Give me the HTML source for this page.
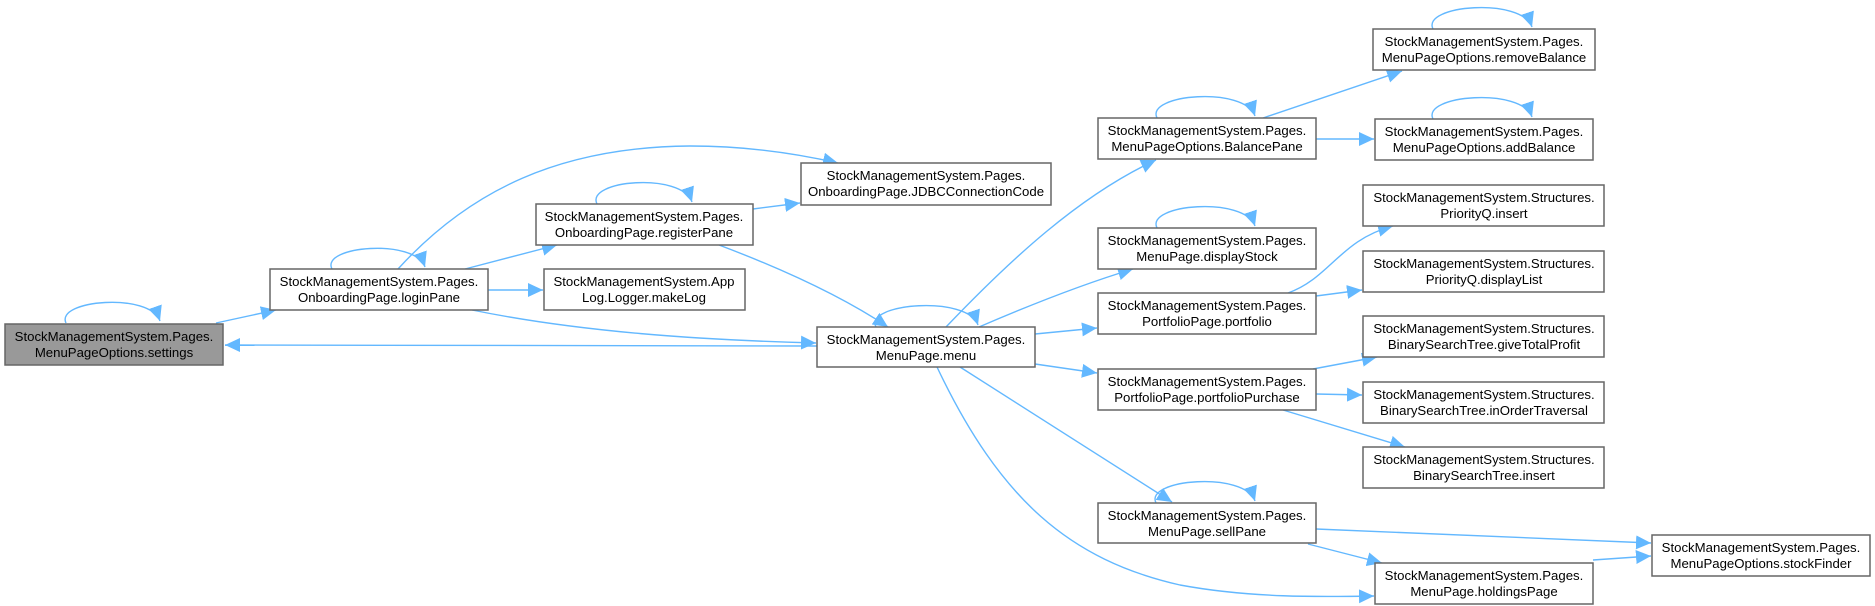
<!DOCTYPE html>
<html><head><meta charset="utf-8"><style>
html,body{margin:0;padding:0;background:#fff;}
svg{display:block;}
text{font-family:"Liberation Sans",Arial,sans-serif;font-size:13.2px;fill:#000;text-anchor:middle;}
.b{fill:#fff;stroke:#666;stroke-width:1.5;}
.e{fill:none;stroke:#63b8ff;stroke-width:1.4;}
</style></head><body>
<svg width="1875" height="606" viewBox="0 0 1875 606" xmlns="http://www.w3.org/2000/svg">
<defs>
<marker id="a" markerUnits="userSpaceOnUse" markerWidth="16" markerHeight="14" refX="15" refY="7" orient="auto">
<path d="M0,0 L15,7 L0,14 Z" fill="#63b8ff"/>
</marker>
</defs>

<g class="e" marker-end="url(#a)">
<path d="M66,323 C55,300 150,292 160,321"/>
<path d="M332,269 C320,246 415,238 425,267"/>
<path d="M597,204 C585,180 682,172 692,202"/>
<path d="M876,327 C864,303 968,295 978,325"/>
<path d="M1157,118 C1145,94 1245,86 1255,116"/>
<path d="M1157,228 C1145,204 1245,196 1255,226"/>
<path d="M1156,503 C1144,479 1245,471 1255,501"/>
<path d="M1433,29 C1421,5 1522,-3 1532,27"/>
<path d="M1433,119 C1421,95 1522,87 1532,117"/>
<path d="M216,323 L276,310"/>
<path d="M817,346 L225,345"/>
<path d="M398,269 C470,190 560,147 690,146 C740,146 790,152 838,163"/>
<path d="M465,269 L557,245"/>
<path d="M488,290 L543,290"/>
<path d="M472,310 C580,332 700,340 816,343"/>
<path d="M753,209 L800,203"/>
<path d="M719,245 C780,268 840,295 888,327"/>
<path d="M946,327 C1010,260 1080,195 1156,160"/>
<path d="M979,327 C1030,305 1080,285 1133,269"/>
<path d="M1035,334 L1097,328"/>
<path d="M1035,364 L1097,373"/>
<path d="M960,367 L1172,502"/>
<path d="M937,367 C1000,500 1070,560 1180,585 C1250,598 1320,597 1374,596"/>
<path d="M1263,118 L1402,71"/>
<path d="M1316,139 L1374,139"/>
<path d="M1288,293 C1330,278 1340,240 1393,226"/>
<path d="M1316,296 L1362,290"/>
<path d="M1313,369 L1377,357"/>
<path d="M1316,394 L1362,395"/>
<path d="M1283,410 L1405,447"/>
<path d="M1316,529 L1651,543"/>
<path d="M1308,544 L1382,563"/>
<path d="M1593,560 L1651,556"/>
</g>

<rect x="5" y="324" width="218" height="41" fill="#999" stroke="#666" stroke-width="1.5"/>
<text x="114" y="341">StockManagementSystem.Pages.</text><text x="114" y="357">MenuPageOptions.settings</text>

<rect class="b" x="270" y="269" width="218" height="41"/>
<text x="379" y="286">StockManagementSystem.Pages.</text><text x="379" y="302">OnboardingPage.loginPane</text>

<rect class="b" x="536" y="204" width="217" height="41"/>
<text x="644" y="221">StockManagementSystem.Pages.</text><text x="644" y="237">OnboardingPage.registerPane</text>

<rect class="b" x="801" y="163" width="250" height="42"/>
<text x="926" y="180">StockManagementSystem.Pages.</text><text x="926" y="196">OnboardingPage.JDBCConnectionCode</text>

<rect class="b" x="544" y="269" width="201" height="41"/>
<text x="644" y="286">StockManagementSystem.App</text><text x="644" y="302">Log.Logger.makeLog</text>

<rect class="b" x="817" y="327" width="218" height="40"/>
<text x="926" y="344">StockManagementSystem.Pages.</text><text x="926" y="360">MenuPage.menu</text>

<rect class="b" x="1098" y="118" width="218" height="41"/>
<text x="1207" y="135">StockManagementSystem.Pages.</text><text x="1207" y="151">MenuPageOptions.BalancePane</text>

<rect class="b" x="1098" y="228" width="218" height="41"/>
<text x="1207" y="245">StockManagementSystem.Pages.</text><text x="1207" y="261">MenuPage.displayStock</text>

<rect class="b" x="1098" y="293" width="218" height="41"/>
<text x="1207" y="310">StockManagementSystem.Pages.</text><text x="1207" y="326">PortfolioPage.portfolio</text>

<rect class="b" x="1098" y="369" width="218" height="41"/>
<text x="1207" y="386">StockManagementSystem.Pages.</text><text x="1207" y="402">PortfolioPage.portfolioPurchase</text>

<rect class="b" x="1098" y="503" width="218" height="40"/>
<text x="1207" y="520">StockManagementSystem.Pages.</text><text x="1207" y="536">MenuPage.sellPane</text>

<rect class="b" x="1373" y="29" width="222" height="41"/>
<text x="1484" y="46">StockManagementSystem.Pages.</text><text x="1484" y="62">MenuPageOptions.removeBalance</text>

<rect class="b" x="1375" y="119" width="218" height="41"/>
<text x="1484" y="136">StockManagementSystem.Pages.</text><text x="1484" y="152">MenuPageOptions.addBalance</text>

<rect class="b" x="1363" y="185" width="241" height="41"/>
<text x="1484" y="202">StockManagementSystem.Structures.</text><text x="1484" y="218">PriorityQ.insert</text>

<rect class="b" x="1363" y="251" width="241" height="41"/>
<text x="1484" y="268">StockManagementSystem.Structures.</text><text x="1484" y="284">PriorityQ.displayList</text>

<rect class="b" x="1363" y="316" width="241" height="41"/>
<text x="1484" y="333">StockManagementSystem.Structures.</text><text x="1484" y="349">BinarySearchTree.giveTotalProfit</text>

<rect class="b" x="1363" y="382" width="241" height="41"/>
<text x="1484" y="399">StockManagementSystem.Structures.</text><text x="1484" y="415">BinarySearchTree.inOrderTraversal</text>

<rect class="b" x="1363" y="447" width="241" height="41"/>
<text x="1484" y="464">StockManagementSystem.Structures.</text><text x="1484" y="480">BinarySearchTree.insert</text>

<rect class="b" x="1375" y="563" width="218" height="41"/>
<text x="1484" y="580">StockManagementSystem.Pages.</text><text x="1484" y="596">MenuPage.holdingsPage</text>

<rect class="b" x="1652" y="535" width="218" height="41"/>
<text x="1761" y="552">StockManagementSystem.Pages.</text><text x="1761" y="568">MenuPageOptions.stockFinder</text>
</svg>
</body></html>
